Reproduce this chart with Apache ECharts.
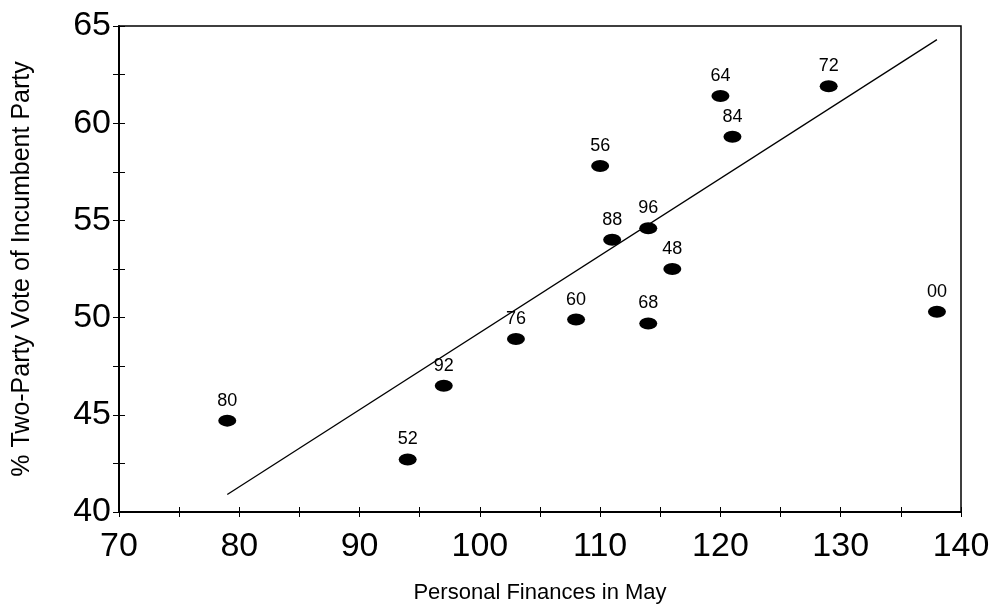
<!DOCTYPE html>
<html>
<head>
<meta charset="utf-8">
<script src="https://cdn.jsdelivr.net/npm/echarts@6/dist/echarts.min.js"></script>
<style>
html,body{margin:0;padding:0;background:#fff;}
#chart{width:1003px;height:614px;}
</style>
</head>
<body>
<div id="chart"></div>
<script>
// Data
const years = ["80","52","92","76","60","56","88","96","68","48","64","84","72","00"];
const finances = [79, 94, 97, 103, 108, 110, 111, 114, 114, 116, 120, 121, 129, 138];
const votes = [44.7, 42.7, 46.5, 48.9, 49.9, 57.8, 54.0, 54.6, 49.7, 52.5, 61.4, 59.3, 61.9, 50.3];
const trendX = [79, 138];
const trendY = [40.9, 64.3];
const xTicks = [70, 80, 90, 100, 110, 120, 130, 140];
const yTicks = [40, 45, 50, 55, 60, 65];

const FONT = '"Liberation Sans", Arial, sans-serif';
const points = finances.map((x, i) => ({ value: [x, votes[i]], label: { formatter: years[i] } }));
const trend = trendX.map((x, i) => [x, trendY[i]]);

const chart = echarts.init(document.getElementById('chart'), null, { renderer: 'canvas' });

const baseX = {
  type: 'value', min: xTicks[0], max: xTicks[xTicks.length - 1], interval: 10,
  position: 'bottom', splitLine: { show: false }
};
const baseY = {
  type: 'value', min: yTicks[0], max: yTicks[yTicks.length - 1], interval: 5,
  position: 'left', splitLine: { show: false }
};

chart.setOption({
  animation: false,
  backgroundColor: '#fff',
  grid: { left: 119, right: 42, top: 26, bottom: 102, show: true, borderColor: '#000', borderWidth: 1.5, backgroundColor: 'transparent' },
  xAxis: [
    Object.assign({}, baseX, {
      name: 'Personal Finances in May', nameLocation: 'middle', nameGap: 70,
      nameTextStyle: { fontFamily: FONT, fontSize: 22, color: '#000' },
      axisLine: { show: true, lineStyle: { color: '#000', width: 2 } },
      axisTick: { show: true, inside: false, length: 5, lineStyle: { color: '#000', width: 1 } },
      minorTick: { show: true, splitNumber: 2, length: 5, lineStyle: { color: '#000', width: 1 } },
      axisLabel: { fontFamily: FONT, fontSize: 34, color: '#000', margin: 18 }
    }),
    Object.assign({}, baseX, {
      axisLine: { show: false },
      axisTick: { show: true, inside: true, length: 5, lineStyle: { color: '#000', width: 1 } },
      minorTick: { show: true, splitNumber: 2, length: 5, lineStyle: { color: '#000', width: 1 } },
      axisLabel: { show: false }
    })
  ],
  yAxis: [
    Object.assign({}, baseY, {
      name: '% Two-Party Vote of Incumbent Party', nameLocation: 'middle', nameGap: 84,
      nameTextStyle: { fontFamily: FONT, fontSize: 25, color: '#000' },
      axisLine: { show: true, lineStyle: { color: '#000', width: 2 } },
      axisTick: { show: true, inside: false, length: 6, lineStyle: { color: '#000', width: 1 } },
      minorTick: { show: true, splitNumber: 2, length: 6, lineStyle: { color: '#000', width: 1 } },
      axisLabel: { fontFamily: FONT, fontSize: 34, color: '#000', margin: 8 }
    }),
    Object.assign({}, baseY, {
      axisLine: { show: false },
      axisTick: { show: true, inside: true, length: 6, lineStyle: { color: '#000', width: 1 } },
      minorTick: { show: true, splitNumber: 2, length: 6, lineStyle: { color: '#000', width: 1 } },
      axisLabel: { show: false }
    })
  ],
  series: [
    {
      type: 'line', data: trend, xAxisIndex: 0, yAxisIndex: 0,
      showSymbol: false, symbol: 'none',
      lineStyle: { color: '#000', width: 1.3 }, z: 2
    },
    {
      type: 'scatter', data: points, xAxisIndex: 0, yAxisIndex: 0,
      symbol: 'circle', symbolSize: [18, 12],
      itemStyle: { color: '#000', opacity: 1 },
      label: { show: true, position: 'top', distance: 5, fontFamily: FONT, fontSize: 18, color: '#000' },
      z: 3
    }
  ]
});
</script>
</body>
</html>
